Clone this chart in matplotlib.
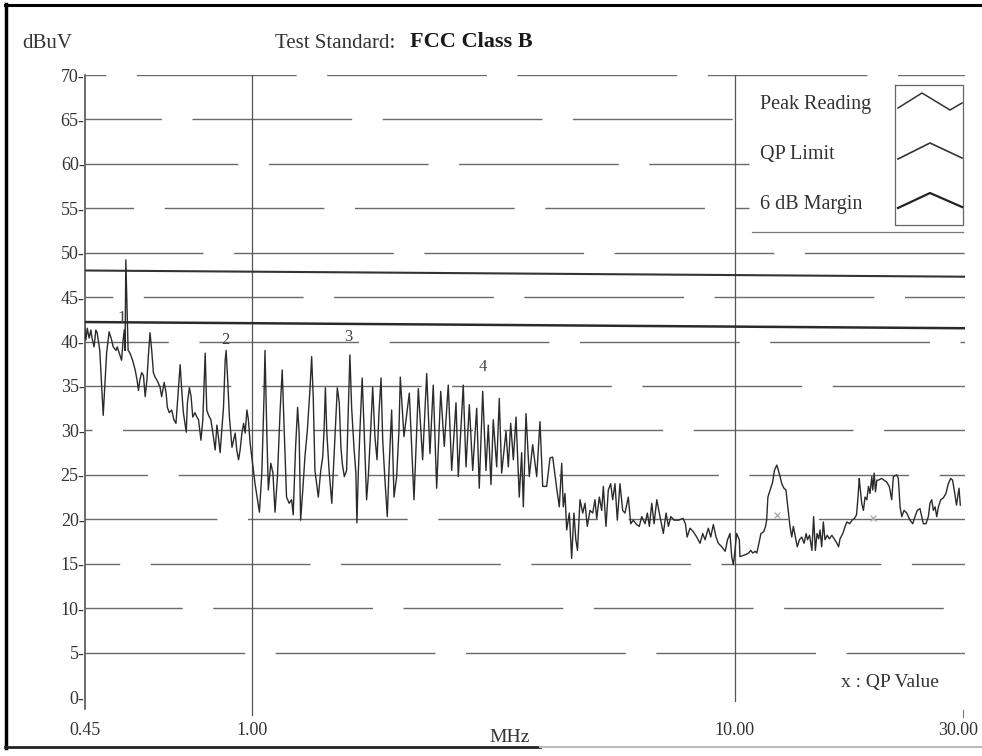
import matplotlib
matplotlib.use("Agg")
import matplotlib.pyplot as plt
from matplotlib.lines import Line2D
from matplotlib.ticker import NullLocator
from matplotlib.transforms import ScaledTranslation

plt.rcParams['font.family'] = ['Liberation Serif', 'DejaVu Serif']

# ---------------- data ----------------
freq = [0.450, 0.453, 0.456, 0.460, 0.464, 0.466, 0.471, 0.475, 0.478, 0.484,
        0.492, 0.496, 0.500, 0.506, 0.512, 0.516, 0.523, 0.526, 0.531, 0.537,
        0.541, 0.544, 0.546, 0.548, 0.552, 0.554, 0.559, 0.566, 0.573, 0.578,
        0.582, 0.586, 0.591, 0.596, 0.601, 0.606, 0.610, 0.615, 0.620, 0.625,
        0.630, 0.635, 0.645, 0.650, 0.658, 0.664, 0.668, 0.674, 0.682, 0.689,
        0.696, 0.704, 0.710, 0.716, 0.721, 0.731, 0.735, 0.742, 0.748, 0.754,
        0.762, 0.769, 0.775, 0.784, 0.791, 0.800, 0.806, 0.813, 0.822, 0.830,
        0.839, 0.846, 0.852, 0.859, 0.866, 0.873, 0.880, 0.884, 0.890, 0.898,
        0.909, 0.916, 0.923, 0.930, 0.938, 0.945, 0.953, 0.961, 0.968, 0.976,
        0.983, 0.991,
        1.014, 1.036, 1.048, 1.059, 1.064, 1.073, 1.081, 1.094, 1.105, 1.116,
        1.129, 1.143, 1.155, 1.166, 1.179, 1.194, 1.208, 1.217, 1.231, 1.243,
        1.252, 1.261, 1.274, 1.287, 1.302, 1.318, 1.329, 1.339, 1.350, 1.372,
        1.388, 1.401, 1.410, 1.419, 1.428, 1.444, 1.463, 1.474, 1.488, 1.502,
        1.516, 1.528, 1.538, 1.553, 1.570, 1.582, 1.595, 1.608, 1.626, 1.641,
        1.649, 1.660, 1.673, 1.691, 1.707, 1.727, 1.741, 1.761, 1.778, 1.797,
        1.815, 1.832, 1.850, 1.865, 1.885, 1.906, 1.924, 1.946, 1.968, 1.993,
        2.015,
        2.028, 2.064, 2.117, 2.165, 2.210, 2.256, 2.300, 2.336, 2.373, 2.412,
        2.459, 2.501, 2.549, 2.591, 2.645, 2.674, 2.738, 2.774, 2.818, 2.864,
        2.919, 2.955, 3.004, 3.051, 3.085, 3.125, 3.159, 3.211, 3.251, 3.288,
        3.357, 3.394, 3.433, 3.476, 3.521, 3.576, 3.617, 3.646, 3.693, 3.751,
        3.812, 3.886, 3.947, 3.999, 4.075, 4.140, 4.194, 4.274, 4.328,
        4.378, 4.411, 4.447, 4.483, 4.540, 4.591, 4.640, 4.683, 4.720, 4.777,
        4.840, 4.892, 4.946, 5.010, 5.075, 5.131, 5.173, 5.238, 5.298, 5.339,
        5.407, 5.467, 5.529, 5.583, 5.644, 5.707, 5.780, 5.855, 5.919, 6.014,
        6.083, 6.159, 6.259, 6.338, 6.411, 6.514, 6.586, 6.649, 6.726, 6.800,
        6.889, 6.995, 7.107, 7.200, 7.281, 7.365, 7.484, 7.642, 7.807, 7.895,
        7.961, 8.070, 8.199, 8.333, 8.465, 8.574, 8.670, 8.808, 8.908, 9.020,
        9.138, 9.239, 9.391, 9.545, 9.652, 9.766, 9.845, 9.924, 10.00, 10.08,
        10.21,
        10.24, 10.49, 10.67, 10.78, 10.89, 11.01, 11.10, 11.19, 11.32, 11.47,
        11.57, 11.63, 11.70, 11.86, 11.97, 12.07, 12.21, 12.30, 12.40, 12.50,
        12.63, 12.75, 12.89, 13.00, 13.11, 13.21, 13.32, 13.46, 13.60, 13.75,
        13.90, 14.04, 14.13, 14.27, 14.43, 14.55, 14.67, 14.79, 14.91, 15.00,
        15.12, 15.24, 15.36, 15.53, 15.68, 15.87, 16.05, 16.26, 16.39, 16.50,
        16.72, 16.91, 17.05, 17.27, 17.48, 17.68, 17.85, 17.96, 18.09, 18.15,
        18.30, 18.45, 18.59, 18.75, 18.90, 19.04, 19.20, 19.29, 19.42, 19.54,
        19.67, 19.80, 20.13, 20.35, 20.61, 20.87, 21.11, 21.28, 21.62, 21.79,
        21.97, 22.15, 22.39, 22.68, 23.04, 23.34, 23.59, 23.85, 24.16, 24.36,
        24.55, 24.86, 25.14, 25.34, 25.55, 25.75, 25.96, 26.17, 26.38, 26.67,
        27.00, 27.34, 27.65, 27.96, 28.22, 28.52, 28.75, 29.10, 29.28]

level = [42.0, 40.2, 41.5, 40.4, 41.3, 40.5, 39.4, 41.3, 41.0, 39.0,
         31.7, 35.3, 38.7, 41.1, 40.2, 39.4, 39.0, 39.4, 38.7, 37.9,
         40.2, 41.3, 39.0, 49.2, 42.1, 39.0, 38.7, 37.9, 36.8, 35.7,
         34.5, 35.7, 36.5, 36.2, 33.8, 35.7, 38.3, 41.0, 39.0, 36.5,
         36.0, 35.7, 34.9, 33.8, 35.4, 34.2, 32.6, 32.0, 32.3, 31.2,
         30.8, 34.5, 37.4, 34.2, 32.0, 29.8, 33.1, 34.8, 33.8, 31.5,
         32.0, 31.5, 31.2, 28.9, 31.2, 38.7, 32.3, 31.7, 31.2, 29.7,
         27.8, 30.6, 29.3, 27.5, 30.0, 32.6, 37.9, 39.0, 36.0, 31.5,
         28.1, 28.9, 29.7, 27.8, 26.7, 27.8, 29.7, 30.8, 29.7, 32.3,
         31.2, 28.6,
         24.1, 20.8, 25.2, 33.8, 39.0, 30.0, 23.3, 26.3, 25.2, 20.8,
         24.8, 32.0, 36.8, 30.0, 22.5, 21.8, 22.2, 20.5, 28.1, 32.6,
         29.7, 19.9, 23.3, 27.0, 30.0, 34.5, 38.3, 33.8, 25.5, 22.5,
         25.5, 27.0, 30.0, 34.8, 30.0, 25.5, 21.8, 25.5, 30.0, 34.8,
         33.1, 28.1, 26.3, 24.8, 25.5, 32.0, 38.5, 32.6, 28.1, 25.2,
         19.6, 25.2, 30.0, 35.9, 30.0, 22.2, 24.8, 30.0, 34.9, 29.3,
         26.7, 32.0, 35.9, 28.9, 24.4, 20.3, 26.3, 32.3, 22.5, 24.8,
         30.0,
         36.0, 29.3, 34.2, 22.2, 34.7, 26.7, 36.4, 27.4, 35.1, 23.5,
         34.4, 28.2, 35.1, 25.5, 33.1, 24.8, 35.1, 25.9, 32.9, 25.5,
         32.5, 23.5, 34.4, 25.5, 30.6, 23.9, 31.2, 25.9, 33.6, 25.2,
         29.9, 25.9, 30.8, 26.7, 31.5, 22.5, 27.5, 21.4, 31.9, 24.8,
         28.4, 24.8, 31.0, 23.7, 23.7, 26.9, 27.0, 23.5, 21.4,
         26.3, 21.4, 22.9, 18.8, 20.7, 15.6, 20.7, 17.7, 16.5, 22.2,
         20.7, 21.8, 19.2, 21.0, 20.7, 22.2, 20.1, 22.5, 21.0, 23.7,
         19.2, 23.3, 24.0, 22.2, 24.0, 19.9, 24.0, 21.0, 20.7, 22.5,
         19.5, 19.9, 19.4, 19.2, 20.3, 19.5, 20.7, 19.2, 21.8, 19.5,
         22.2, 20.3, 18.4, 20.7, 19.2, 20.3, 19.9, 19.9, 20.1, 19.5,
         18.0, 19.0, 18.6, 18.0, 17.3, 18.4, 17.7, 19.0, 18.0, 19.4,
         18.0, 17.3, 16.9, 16.4, 17.7, 18.4, 15.8, 14.9, 16.5, 18.4,
         17.7,
         15.8, 16.0, 16.2, 16.5, 16.2, 16.4, 16.2, 17.1, 18.4, 18.6,
         19.2, 19.9, 22.5, 23.5, 24.2, 25.5, 26.1, 25.5, 24.8, 24.0,
         23.5, 23.3, 21.0, 19.2, 18.0, 19.2, 18.2, 16.9, 17.7, 18.0,
         17.3, 18.4, 17.7, 18.2, 16.5, 20.3, 16.5, 18.4, 17.8, 18.8,
         16.9, 19.7, 17.7, 18.2, 17.8, 18.2, 17.8, 17.3, 16.9, 17.8,
         18.4, 19.2, 19.7, 19.5, 19.9, 20.1, 20.5, 22.2, 24.6, 23.7,
         21.8, 21.0, 22.5, 22.2, 23.7, 22.9, 24.8, 23.3, 25.2, 23.1,
         24.4, 24.4, 24.6, 24.4, 24.2, 23.7, 22.2, 24.8, 25.0, 24.6,
         21.4, 20.3, 21.0, 20.7, 19.9, 19.5, 20.3, 21.0, 21.2, 20.3,
         19.5, 19.5, 20.3, 21.8, 22.2, 21.0, 21.4, 20.3, 21.4, 22.2,
         22.4, 22.9, 24.0, 24.6, 24.4, 22.9, 21.6, 23.5, 21.6]

qp_limit_freq = [0.45, 30.0]
qp_limit_level = [48.0, 47.3]
margin_freq = [0.45, 30.0]
margin_level = [42.2, 41.5]

qp_value_freq = [12.2, 19.3]
qp_value_level = [20.5, 20.1]

marker_ids = ['1', '2', '3', '4']
marker_freq = [0.537, 0.882, 1.585, 3.00]
marker_level = [42.7, 40.2, 40.5, 37.1]

yticks = list(range(0, 75, 5))
xticks = [0.45, 1.0, 10.0, 30.0]
xticklabels = ['0.45', '1.00', '10.00', '30.00']

legend_labels = ['Peak Reading', 'QP Limit', '6 dB Margin']

# ---------------- figure ----------------
W, H = 982, 756
fig = plt.figure(figsize=(W / 100, H / 100), dpi=100)
fig.patch.set_facecolor('white')


def fx(px):
    return px / W


def fy(py):
    return 1 - py / H


ax = fig.add_axes([fx(84.5), fy(697), (965.4 - 84.5) / W, (697 - 75) / H])
ax.set_xscale('log')
ax.set_xlim(0.45, 30)
ax.set_ylim(0, 70)
for s in ax.spines.values():
    s.set_visible(False)
ax.patch.set_alpha(0)

# broken horizontal grid lines
offsets = [0, 45, 90, 20, 70, 110, 10, 55, 95, 30, 80, 5, 60, 100, 35]
for i, yv in enumerate(yticks[1:]):
    xmax = 10.7 if yv in (55, 60, 65) else 30
    ax.plot([0.45, xmax], [yv, yv], color='#6a6a6a', lw=1.0,
            linestyle=(offsets[i], (115, 22)), zorder=1)

# vertical lines
ax.plot([0.45, 0.45], [-1.4, 70], color='#444444', lw=1.1, clip_on=False, zorder=2)
ax.plot([1.0, 1.0], [-2.0, 70], color='#555555', lw=0.9, clip_on=False, zorder=2)
ax.plot([10.0, 10.0], [-0.4, 70], color='#555555', lw=0.9, clip_on=False, zorder=2)
ax.plot([29.6, 29.6], [-1.5, -2.3], color='#777777', lw=0.8, clip_on=False)

# limit lines
ax.plot(qp_limit_freq, qp_limit_level, color='#333333', lw=1.5, zorder=3)
ax.plot(margin_freq, margin_level, color='#2a2a2a', lw=1.8, zorder=3)

# peak reading trace
ax.plot(freq, level, color='#2b2b2b', lw=1.0, zorder=4)

# QP values
ax.plot(qp_value_freq, qp_value_level, 'x', color='#aaaaaa', ms=5, mew=0.9, zorder=5)

# marker numbers
for m, f, l in zip(marker_ids, marker_freq, marker_level):
    ax.text(f, l, m, fontsize=12, color='#444444', ha='center', va='center', zorder=6)

# ticks
ax.set_yticks(yticks)
ax.set_yticklabels([f"{v}-" for v in yticks])
ax.tick_params(axis='y', length=0, pad=0, labelsize=13, labelcolor='#333333')
ax.set_xticks(xticks)
ax.set_xticklabels(xticklabels)
ax.xaxis.set_minor_locator(NullLocator())
ax.tick_params(axis='x', length=0, pad=18, labelsize=13, labelcolor='#333333')
last = ax.get_xticklabels()[-1]
last.set_transform(last.get_transform() + ScaledTranslation(-7 / 100, 0, fig.dpi_scale_trans))

# texts
fig.text(fx(22), fy(43), 'dBuV', fontsize=15, color='#333333', ha='left', va='center')
fig.text(fx(275), fy(43), 'Test Standard:', fontsize=15, color='#333333', ha='left', va='center')
fig.text(fx(410), fy(42), 'FCC Class B', fontsize=16, color='#1a1a1a', ha='left', va='center',
         fontweight='bold')
fig.text(fx(510), fy(737), 'MHz', fontsize=14, color='#333333', ha='center', va='center')
fig.text(fx(890), fy(683), 'x : QP Value', fontsize=14, color='#333333', ha='center', va='center')

# legend
leg_y = [105, 155, 205]
for lab, yy in zip(legend_labels, leg_y):
    fig.text(fx(760), fy(yy), lab, fontsize=14.5, color='#333333', ha='left', va='center')
box_l, box_r, box_t, box_b = 895, 963, 85, 225
fig.add_artist(Line2D([fx(box_l), fx(box_r), fx(box_r), fx(box_l), fx(box_l)],
                      [fy(box_t), fy(box_t), fy(box_b), fy(box_b), fy(box_t)],
                      color='#666666', lw=0.9))
fig.add_artist(Line2D([fx(752), fx(963)], [fy(232), fy(232)], color='#777777', lw=0.9))
fig.add_artist(Line2D([fx(898), fx(922), fx(950), fx(962)],
                      [fy(108), fy(93), fy(110), fy(103)], color='#333333', lw=1.1))
fig.add_artist(Line2D([fx(898), fx(930), fx(962)],
                      [fy(159), fy(143), fy(158)], color='#333333', lw=1.2))
fig.add_artist(Line2D([fx(898), fx(930), fx(962)],
                      [fy(208), fy(193), fy(207)], color='#222222', lw=1.6))

# scan frame borders
fig.add_artist(Line2D([fx(6), fx(6)], [fy(4), fy(748)], color='black', lw=2.5))
fig.add_artist(Line2D([fx(5), fx(982)], [fy(5), fy(5)], color='black', lw=2.2))
fig.add_artist(Line2D([fx(5), fx(540)], [fy(747), fy(747)], color='#222222', lw=2.0))
fig.add_artist(Line2D([fx(540), fx(982)], [fy(747), fy(747)], color='#bbbbbb', lw=1.5))

fig.savefig('out.png', dpi=100, facecolor='white')
